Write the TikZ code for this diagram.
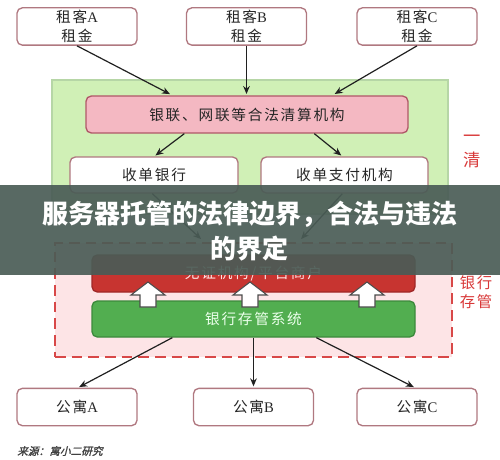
\documentclass[tikz,border=0pt]{standalone}
\usepackage{fontspec}
\setmainfont[LetterSpace=12]{Noto Sans CJK SC}
\newfontfamily\lat{Liberation Serif}
\newfontfamily\bannerfont{Noto Sans CJK SC}
\newfontfamily\srcfont[FakeSlant=0.25,FakeBold=1.5]{Noto Sans CJK SC}
\usetikzlibrary{arrows.meta,calc}
\definecolor{boxrose}{HTML}{B07880}
\definecolor{pinkfill}{HTML}{F4B8C2}
\definecolor{pinkdraw}{HTML}{B05868}
\definecolor{greg}{HTML}{D0F0B6}
\definecolor{gregdraw}{HTML}{B6D6A6}
\definecolor{redreg}{HTML}{FDE4E6}
\definecolor{redregdraw}{HTML}{D84848}
\definecolor{redbox}{HTML}{C73430}
\definecolor{redboxdraw}{HTML}{A02828}
\definecolor{greenbox}{HTML}{52AE50}
\definecolor{greenboxdraw}{HTML}{3C8A3C}
\definecolor{bannerc}{HTML}{4A5C56}
\definecolor{labred}{HTML}{D83838}
\definecolor{arrowc}{HTML}{202020}
\begin{document}
\begin{tikzpicture}[x=0.75pt,y=-0.75pt,
  wbox/.style={draw=boxrose,line width=1pt,fill=white,rounded corners=4pt,
    minimum width=90pt,minimum height=28pt,inner sep=0pt,align=center,
    font=\fontsize{11}{14}\selectfont,text=black!85},
  conn/.style={draw=arrowc,line width=0.9pt,-{Stealth[length=6pt,width=5pt]}},
  blockarr/.style={draw=black!70,fill=white,line width=0.8pt,line join=miter},
  sidelab/.style={text=labred,font=\fontsize{12}{14}\selectfont,align=center,inner sep=0pt}]
\useasboundingbox (0,0) rectangle (500,460);
% regions
\node[draw=gregdraw,fill=greg,line width=1pt,minimum width=297pt,minimum height=100.5pt,inner sep=0pt] (greg) at (250,147) {};
\node[draw=redregdraw,fill=redreg,line width=1.4pt,dash pattern=on 8pt off 4.5pt,minimum width=297.75pt,minimum height=85.5pt,inner sep=0pt] (rreg) at (253.5,300) {};
% top boxes
\node[wbox] (tA) at (77,26.5) {租客{\lat A}\\租金};
\node[wbox] (tB) at (246.5,26.5) {租客{\lat B}\\租金};
\node[wbox] (tC) at (417,26.5) {租客{\lat C}\\租金};
% clearing
\node[wbox,draw=pinkdraw,fill=pinkfill,minimum width=241.5pt,minimum height=27.75pt] (clr) at (247,114.5) {银联、网联等合法清算机构};
\node[wbox,minimum width=126pt,minimum height=27pt] (bank) at (154,175) {收单银行};
\node[wbox,minimum width=125.25pt,minimum height=27pt] (pay) at (344.5,175) {收单支付机构};
% red / green boxes
\node[wbox,draw=redboxdraw,fill=redbox,text=red!10!white,minimum width=242.25pt,minimum height=27.75pt] (plat) at (253.5,273.5) {无证机构/平台商户};
\node[wbox,draw=greenboxdraw,fill=greenbox,text=green!8!white,minimum width=242.25pt,minimum height=27pt] (cust) at (253.5,319) {银行存管系统};
% bottom boxes
\node[wbox] (gA) at (77,407) {公寓{\lat A}};
\node[wbox] (gB) at (253.5,407) {公寓{\lat B}};
\node[wbox] (gC) at (417,407) {公寓{\lat C}};
% connectors
\coordinate (cA) at ($(clr.north west)+(87,0)$);
\coordinate (cC) at ($(clr.north west)+(247,0)$);
\draw[conn,shorten >=2pt] (tA.south) -- (cA);
\draw[conn,shorten >=1pt] (tB.south) -- (tB.south |- clr.north);
\draw[conn,shorten >=2pt] (tC.south) -- (cC);
\coordinate (c1) at ($(clr.south west)+(99,0)$);
\coordinate (c2) at ($(bank.north west)+(85,0)$);
\coordinate (c3) at ($(clr.south west)+(229,0)$);
\coordinate (c4) at ($(pay.north west)+(82,0)$);
\draw[conn,shorten >=1pt] (c1) -- (c2);
\draw[conn,shorten >=1pt] (c3) -- (c4);
\coordinate (d1) at ($(bank.south west)+(83,0)$);
\coordinate (d2) at ($(rreg.north west)+(147,-3)$);
\coordinate (d3) at ($(pay.south west)+(82,0)$);
\coordinate (d4) at ($(rreg.north west)+(247,-3)$);
\draw[conn] (d1) -- (d2);
\draw[conn] (d3) -- (d4);
\coordinate (e1) at ($(cust.south west)+(81,0)$);
\coordinate (e2) at ($(cust.south west)+(225,0)$);
\coordinate (f1) at ($(gA.north)+(1,0)$);
\coordinate (f3) at ($(gC.north)+(-2,0)$);
\draw[conn,shorten >=1pt] (e1) -- (f1);
\draw[conn,shorten >=1pt] (cust.south) -- (gB.north);
\draw[conn,shorten >=1pt] (e2) -- (f3);
% block arrows
\foreach \n/\xx in {u1/148,u2/250,u3/367}{
  \coordinate (\n) at (\xx,307);
  \draw[blockarr] ($(\n)+(-8,0)$) -- ($(\n)+(-8,-12)$) -- ($(\n)+(-17,-12)$) -- ($(\n)+(0,-25)$) -- ($(\n)+(17,-12)$) -- ($(\n)+(8,-12)$) -- ($(\n)+(8,0)$) -- cycle;
}
% side labels
\node[sidelab,font=\fontsize{13}{18}\selectfont] (lab1) at (472,151) {一\\清};
\node[sidelab,font=\fontsize{11.5}{14}\selectfont] (lab2) at (476,292.5) {银行\\存管};
% source
\node[anchor=west,inner sep=0pt,text=black!75,font=\srcfont\fontsize{8}{9}\selectfont] (src) at (17,451) {来源：寓小二研究};
% banner
\node[fill=bannerc,fill opacity=0.92,text opacity=1,minimum width=375pt,minimum height=67.5pt,inner sep=0pt] (banner) at (250,230) {};
\node[text=white,font=\bannerfont\bfseries\fontsize{19.5}{26.5}\selectfont,align=center,inner sep=0pt] (btext) at (250,231) {服务器托管的法律边界，合法与违法\\的界定};
\end{tikzpicture}
\end{document}
